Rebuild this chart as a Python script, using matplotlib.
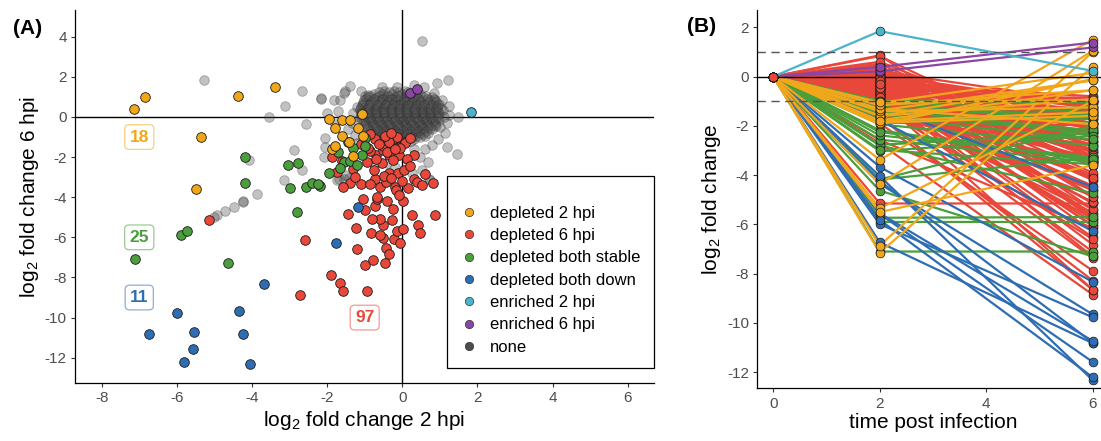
import matplotlib
matplotlib.use('Agg')
import matplotlib.pyplot as plt
from matplotlib.lines import Line2D

plt.rcParams['font.family'] = ['Liberation Sans', 'DejaVu Sans']
plt.rcParams['axes.unicode_minus'] = False
plt.rcParams['mathtext.default'] = 'regular'

# ---------------- data (log2 fold change at 2 hpi, 6 hpi) ----------------
categories = ['depleted 2 hpi', 'depleted 6 hpi', 'depleted both stable',
              'depleted both down', 'enriched 2 hpi', 'enriched 6 hpi', 'none']
cat_colors = ['#F2A71B', '#E8473A', '#4A9E3C', '#2E6DB3', '#4BB3CB', '#8B46A3', '#4D4D4D']

dep2_pts = [(-7.15, 0.40), (-6.86, 1.00), (-4.36, 1.05), (-3.38, 1.50), (-5.35, -1.00),
            (-5.50, -3.60), (-1.94, -0.10), (-1.60, -0.15), (-1.38, -0.15), (-1.07, 0.15),
            (-1.78, -0.55), (-1.60, -0.93), (-1.41, -1.25), (-1.87, -1.60), (-1.31, -1.93),
            (-1.17, -0.55), (-1.05, -0.95), (-1.80, -1.45)]

dep6_pts = [(-5.15, -5.15), (-2.71, -8.85), (-2.58, -6.15), (-1.90, -7.88), (-1.65, -8.28),
            (-1.58, -8.66), (-0.94, -8.65), (-0.98, -7.37), (-0.79, -7.11), (-1.22, -5.52),
            (-0.83, -5.78), (-0.50, -5.40), (-0.50, -6.03), (-0.23, -6.07), (-0.14, -5.67),
            (0.03, -5.58), (0.43, -5.38), (0.48, -5.78), (-0.43, -6.53), (-0.36, -6.82),
            (-0.59, -5.10), (-0.27, -5.15), (0.86, -4.88), (0.01, -4.20), (-0.98, -4.62),
            (-0.72, -4.43), (-0.68, -4.07), (-0.19, -3.48), (-0.59, -3.48), (-0.43, -3.23),
            (-0.72, -3.07), (-1.09, -3.35), (-1.38, -3.28), (-1.59, -3.48), (-0.76, -2.62),
            (-0.34, -2.80), (-0.11, -2.78), (0.04, -2.65), (0.30, -3.07), (0.39, -3.23),
            (0.52, -3.37), (0.83, -3.28), (-0.17, -3.65), (-0.67, -3.98), (0.30, -1.92),
            (-0.34, -1.90), (-0.10, -1.90), (-0.69, -1.90), (-0.87, -1.72), (-0.32, -1.48),
            (-0.10, -1.48), (0.08, -1.23), (-0.72, -1.12), (-0.19, -1.07), (-0.50, -1.65),
            (-0.90, -1.55), (-1.87, -1.98), (-0.52, -1.43), (-0.41, -1.73), (0.06, -1.30),
            (-0.05, -1.55), (-0.14, -1.02), (-0.35, -1.25), (-0.62, -1.35), (-0.25, -2.15),
            (-0.55, -2.30), (0.12, -2.10), (-0.95, -2.25), (-1.30, -2.60), (-0.48, -2.95),
            (-0.30, -3.05), (-0.85, -3.35), (-1.25, -3.00), (-0.40, -4.20), (-0.25, -4.60),
            (-0.80, -5.10), (-0.60, -5.90), (-0.05, -6.30), (-0.10, -3.90), (0.15, -3.55),
            (0.60, -2.85), (0.20, -2.45), (-0.02, -3.20), (-1.05, -4.10), (-1.45, -4.85),
            (-0.45, -7.30), (-1.20, -6.60), (0.25, -4.90), (-0.70, -2.10), (-0.20, -1.60),
            (-0.45, -0.95), (-1.10, -1.35), (0.20, -1.05), (-1.60, -2.20), (-1.75, -2.75),
            (-0.30, -0.80), (-0.85, -0.85)]

stable_pts = [(-4.18, -2.00), (-4.18, -3.30), (-5.90, -5.90), (-5.73, -5.70), (-7.10, -7.10),
              (-4.63, -7.30), (-2.80, -4.73), (-3.03, -2.40), (-2.77, -2.30), (-2.98, -3.56),
              (-2.56, -3.48), (-2.39, -3.27), (-2.18, -3.43), (-1.94, -2.80), (-1.70, -1.73),
              (-1.54, -2.27), (-1.30, -1.57), (-1.07, -1.90), (-0.98, -1.05), (-1.38, -2.18),
              (-2.25, -3.35), (-1.45, -1.25), (-1.20, -2.40), (-1.00, -1.45), (-1.65, -2.55)]

down_pts = [(-1.18, -4.48), (-1.76, -6.27), (-3.67, -8.33), (-4.35, -9.65), (-4.24, -10.80),
            (-4.04, -12.32), (-5.99, -9.77), (-6.73, -10.82), (-5.55, -10.73), (-5.58, -11.58),
            (-5.82, -12.20)]

enr2_pts = [(1.84, 0.23)]
enr6_pts = [(0.21, 1.18), (0.39, 1.38)]

none_pts = [
    # dense central cloud
    (-0.48, 1.30), (-0.22, 1.30), (0.08, 1.30),
    (-0.75, 1.15), (-0.52, 1.15), (-0.28, 1.15), (-0.02, 1.15), (0.22, 1.15), (0.47, 1.15),
    (-0.92, 0.98), (-0.68, 0.98), (-0.43, 0.98), (-0.18, 0.98), (0.07, 0.98), (0.31, 0.98),
    (0.56, 0.98), (0.78, 0.98),
    (-1.02, 0.82), (-0.79, 0.82), (-0.57, 0.82), (-0.36, 0.82), (-0.14, 0.82), (0.09, 0.82),
    (0.28, 0.82), (0.49, 0.82), (0.71, 0.82), (0.88, 0.82),
    (-1.05, 0.66), (-0.86, 0.66), (-0.63, 0.66), (-0.42, 0.66), (-0.22, 0.66), (-0.03, 0.66),
    (0.17, 0.66), (0.38, 0.66), (0.59, 0.66), (0.80, 0.66), (0.98, 0.66),
    (-1.10, 0.50), (-0.90, 0.50), (-0.69, 0.50), (-0.48, 0.50), (-0.27, 0.50), (-0.08, 0.50),
    (0.12, 0.50), (0.33, 0.50), (0.52, 0.50), (0.74, 0.50), (0.93, 0.50),
    (-1.12, 0.34), (-0.93, 0.34), (-0.72, 0.34), (-0.53, 0.34), (-0.31, 0.34), (-0.12, 0.34),
    (0.09, 0.34), (0.28, 0.34), (0.49, 0.34), (0.70, 0.34), (0.90, 0.34), (1.08, 0.34),
    (-1.08, 0.18), (-0.87, 0.18), (-0.66, 0.18), (-0.45, 0.18), (-0.26, 0.18), (-0.05, 0.18),
    (0.15, 0.18), (0.36, 0.18), (0.57, 0.18), (0.77, 0.18), (0.97, 0.18),
    (-1.13, 0.02), (-0.92, 0.02), (-0.71, 0.02), (-0.50, 0.02), (-0.29, 0.02), (-0.09, 0.02),
    (0.11, 0.02), (0.31, 0.02), (0.52, 0.02), (0.73, 0.02), (0.92, 0.02), (1.10, 0.02),
    (-1.06, -0.14), (-0.85, -0.14), (-0.64, -0.14), (-0.43, -0.14), (-0.23, -0.14),
    (-0.02, -0.14), (0.18, -0.14), (0.39, -0.14), (0.60, -0.14), (0.80, -0.14), (0.99, -0.14),
    (-1.00, -0.30), (-0.80, -0.30), (-0.58, -0.30), (-0.38, -0.30), (-0.17, -0.30),
    (0.04, -0.30), (0.24, -0.30), (0.45, -0.30), (0.66, -0.30), (0.86, -0.30),
    (-0.96, -0.46), (-0.74, -0.46), (-0.53, -0.46), (-0.32, -0.46), (-0.11, -0.46),
    (0.10, -0.46), (0.30, -0.46), (0.51, -0.46), (0.72, -0.46), (0.90, -0.46),
    (-0.90, -0.62), (-0.67, -0.62), (-0.46, -0.62), (-0.25, -0.62), (-0.04, -0.62),
    (0.17, -0.62), (0.38, -0.62), (0.59, -0.62), (0.79, -0.62),
    (-0.83, -0.78), (-0.60, -0.78), (-0.38, -0.78), (-0.16, -0.78), (0.06, -0.78),
    (0.27, -0.78), (0.48, -0.78), (0.68, -0.78),
    (-0.72, -0.94), (-0.50, -0.94), (-0.27, -0.94), (-0.05, -0.94), (0.17, -0.94),
    (0.40, -0.94), (0.60, -0.94),
    (-0.58, -1.10), (-0.35, -1.10), (-0.12, -1.10), (0.10, -1.10), (0.32, -1.10),
    (-0.40, -1.26), (-0.15, -1.26), (0.10, -1.26),
    (-0.55, 0.90), (-0.25, 0.90), (0.05, 0.90), (0.35, 0.90),
    (-0.75, 0.60), (-0.45, 0.60), (-0.15, 0.60), (0.15, 0.60), (0.45, 0.60),
    (-0.80, 0.26), (-0.50, 0.26), (-0.20, 0.26), (0.10, 0.26), (0.40, 0.26), (0.65, 0.26),
    (-0.80, -0.06), (-0.50, -0.06), (-0.20, -0.06), (0.10, -0.06), (0.40, -0.06), (0.65, -0.06),
    (-0.70, -0.38), (-0.40, -0.38), (-0.10, -0.38), (0.20, -0.38), (0.50, -0.38),
    (-0.50, -0.70), (-0.20, -0.70), (0.10, -0.70), (0.40, -0.70),
    # second overlapping layer of the central cloud
    (-0.62, 1.22), (-0.35, 1.22), (-0.10, 1.22), (0.15, 1.22), (0.38, 1.22),
    (-0.86, 1.06), (-0.61, 1.06), (-0.37, 1.06), (-0.12, 1.06), (0.13, 1.06), (0.37, 1.06),
    (0.63, 1.06),
    (-0.97, 0.90), (-0.74, 0.90), (-0.50, 0.90), (-0.29, 0.90), (-0.07, 0.90), (0.18, 0.90),
    (0.42, 0.90), (0.66, 0.90), (0.84, 0.90),
    (-1.04, 0.74), (-0.82, 0.74), (-0.60, 0.74), (-0.39, 0.74), (-0.18, 0.74), (0.04, 0.74),
    (0.26, 0.74), (0.47, 0.74), (0.68, 0.74), (0.89, 0.74),
    (-1.08, 0.58), (-0.88, 0.58), (-0.66, 0.58), (-0.44, 0.58), (-0.24, 0.58), (-0.05, 0.58),
    (0.15, 0.58), (0.36, 0.58), (0.57, 0.58), (0.77, 0.58), (0.96, 0.58),
    (-1.12, 0.42), (-0.91, 0.42), (-0.70, 0.42), (-0.50, 0.42), (-0.29, 0.42), (-0.10, 0.42),
    (0.10, 0.42), (0.31, 0.42), (0.51, 0.42), (0.72, 0.42), (0.91, 0.42),
    (-1.10, 0.26), (-0.90, 0.26), (-0.69, 0.26), (-0.48, 0.26), (-0.28, 0.26), (-0.08, 0.26),
    (0.13, 0.26), (0.33, 0.26), (0.54, 0.26), (0.74, 0.26), (0.94, 0.26),
    (-1.11, 0.10), (-0.90, 0.10), (-0.69, 0.10), (-0.48, 0.10), (-0.27, 0.10), (-0.07, 0.10),
    (0.13, 0.10), (0.34, 0.10), (0.55, 0.10), (0.75, 0.10), (0.95, 0.10),
    (-1.09, -0.06), (-0.88, -0.06), (-0.68, -0.06), (-0.47, -0.06), (-0.26, -0.06),
    (-0.06, -0.06), (0.14, -0.06), (0.35, -0.06), (0.56, -0.06), (0.76, -0.06), (0.96, -0.06),
    (-1.03, -0.22), (-0.82, -0.22), (-0.61, -0.22), (-0.40, -0.22), (-0.20, -0.22),
    (0.01, -0.22), (0.21, -0.22), (0.42, -0.22), (0.63, -0.22), (0.83, -0.22),
    (-0.98, -0.38), (-0.77, -0.38), (-0.56, -0.38), (-0.35, -0.38), (-0.14, -0.38),
    (0.07, -0.38), (0.27, -0.38), (0.48, -0.38), (0.69, -0.38), (0.88, -0.38),
    (-0.93, -0.54), (-0.71, -0.54), (-0.50, -0.54), (-0.29, -0.54), (-0.08, -0.54),
    (0.13, -0.54), (0.34, -0.54), (0.55, -0.54), (0.75, -0.54),
    (-0.86, -0.70), (-0.64, -0.70), (-0.42, -0.70), (-0.20, -0.70), (0.02, -0.70),
    (0.23, -0.70), (0.44, -0.70), (0.64, -0.70),
    (-0.78, -0.86), (-0.55, -0.86), (-0.33, -0.86), (-0.10, -0.86), (0.12, -0.86),
    (0.34, -0.86), (0.55, -0.86),
    (-0.65, -1.02), (-0.42, -1.02), (-0.20, -1.02), (0.03, -1.02), (0.25, -1.02), (0.47, -1.02),
    (-0.50, -1.18), (-0.25, -1.18), (0.00, -1.18), (0.22, -1.18),
    # scattered points
    (-5.27, 1.85), (-3.55, 0.02), (-3.13, 0.55), (-2.68, 1.30), (-2.15, 0.90), (-2.15, 0.92),
    (-2.55, -0.37), (-2.88, -1.65), (-2.66, -2.65), (-4.07, -2.15), (-3.86, -3.86),
    (-4.23, -4.20), (-4.23, -4.22), (-4.49, -4.47), (-4.71, -4.68), (-4.93, -4.90),
    (-5.02, -5.00), (-2.05, -1.03), (-2.08, -1.98), (-2.05, -1.48), (-1.56, -3.10),
    (-1.69, -3.07), (-1.42, -3.02), (-1.52, -2.90), (-1.74, -3.15), (-1.83, 0.85),
    (-1.65, 0.85), (-1.52, 1.27), (-1.38, 1.52), (-1.56, 1.18), (-1.20, 0.50), (-0.98, 1.05),
    (-0.90, 1.10), (-0.14, 1.50), (0.52, 3.78), (0.93, 1.68), (1.23, 1.85), (0.58, 1.50),
    (1.03, 0.45), (1.05, 0.85), (1.48, 0.02), (1.01, -0.48), (1.19, -1.49), (1.45, -1.85),
    (0.48, -1.98), (0.68, -2.27), (0.52, -2.65), (0.70, -3.07), (0.26, -2.78), (0.74, -3.15),
    (-0.74, -2.32), (-0.41, -2.32), (-0.20, -2.50), (-1.30, 0.20), (-1.35, -0.30),
    (-1.45, -0.60), (-1.25, -0.90), (1.25, 0.10), (1.20, -0.30), (1.15, -0.80), (0.95, -1.10),
    (0.80, -1.40), (0.60, -1.60), (0.30, -1.60), (1.25, 0.55), (-1.80, -0.35), (-1.70, 0.30),
    (-2.00, 0.20), (-1.20, -1.30), (-1.00, -1.40), (0.85, 1.20), (0.30, 1.60), (-0.55, 1.50),
    (-1.10, 1.30), (-3.16, -3.13),
]

count_labels = ['18', '97', '25', '11']

# ---------------- figure ----------------
W, H = 1101, 441
fig = plt.figure(figsize=(W / 100, H / 100), dpi=100)

def style_axes(ax):
    for s in ['top', 'right']:
        ax.spines[s].set_visible(False)
    for s in ['left', 'bottom']:
        ax.spines[s].set_linewidth(0.9)
        ax.spines[s].set_color('black')
    ax.tick_params(axis='both', length=3, width=0.8, color='#333333',
                   labelcolor='#4D4D4D', labelsize=11, pad=3)

# ---- panel A ----
axA = fig.add_axes([75 / W, (H - 383) / H, 579 / W, 373 / H])
style_axes(axA)
axA.set_xlim(-8.71, 6.70)
axA.set_ylim(-13.26, 5.33)
axA.set_xticks([-8, -6, -4, -2, 0, 2, 4, 6])
axA.set_yticks([-12, -10, -8, -6, -4, -2, 0, 2, 4])
axA.axhline(0, color='black', lw=1.0, zorder=1)
axA.axvline(0, color='black', lw=1.0, zorder=1)

nx = [p[0] for p in none_pts]
ny = [p[1] for p in none_pts]
axA.scatter(nx, ny, s=48, facecolor='#4D4D4D', edgecolor='#2A2A2A', linewidths=0.6,
            alpha=0.34, zorder=2)

point_sets = [dep6_pts, stable_pts, down_pts, dep2_pts, enr2_pts, enr6_pts]
set_colors = [cat_colors[1], cat_colors[2], cat_colors[3], cat_colors[0], cat_colors[4], cat_colors[5]]
for pts, c in zip(point_sets, set_colors):
    axA.scatter([p[0] for p in pts], [p[1] for p in pts], s=48, facecolor=c,
                edgecolor='#1A1A1A', linewidths=0.6, zorder=3)

axA.set_xlabel('log$_2$ fold change 2 hpi', fontsize=15, labelpad=3)
axA.set_ylabel('log$_2$ fold change 6 hpi', fontsize=15, labelpad=3)

label_pos = [(-7.0, -1.0), (-1.0, -10.0), (-7.0, -6.0), (-7.0, -9.0)]
label_cols = [cat_colors[0], cat_colors[1], cat_colors[2], cat_colors[3]]
for txt, (lx, ly), c in zip(count_labels, label_pos, label_cols):
    axA.text(lx, ly, txt, color=c, fontsize=12.5, fontweight='bold', ha='center', va='center',
             zorder=5,
             bbox=dict(boxstyle='round,pad=0.28,rounding_size=0.25', fc='white',
                       ec=matplotlib.colors.to_rgba(c, 0.55), lw=0.9))

handles = [Line2D([0], [0], marker='o', ls='none', markersize=6, markerfacecolor=c,
                  markeredgecolor='#333333', markeredgewidth=0.5) for c in cat_colors]
leg = axA.legend(handles, categories, loc='upper left',
                 bbox_to_anchor=(447 / W, 1 - 176 / H), bbox_transform=fig.transFigure,
                 fontsize=12, frameon=True, fancybox=False, framealpha=1,
                 edgecolor='black', borderpad=0.8, handlelength=1.0, handletextpad=0.8,
                 labelspacing=0.44, borderaxespad=0, title=' ', title_fontsize=6.5)
leg.get_frame().set_linewidth(0.9)

fig.text(13 / W, 1 - 28 / H, '(A)', fontsize=15, fontweight='bold', va='center', ha='left')

# ---- panel B ----
axB = fig.add_axes([757.3 / W, (H - 388.3) / H, (1108.7 - 757.3) / W, (388.3 - 10) / H])
style_axes(axB)
axB.set_xlim(-0.3, 6.3)
axB.set_ylim(-12.65, 2.70)
axB.set_xticks([0, 2, 4, 6])
axB.set_yticks([-12, -10, -8, -6, -4, -2, 0, 2])

times = [0, 2, 6]
line_order = [(dep6_pts, cat_colors[1]), (stable_pts, cat_colors[2]), (down_pts, cat_colors[3]),
              (dep2_pts, cat_colors[0]), (enr6_pts, cat_colors[5]), (enr2_pts, cat_colors[4])]
for pts, c in line_order:
    for x2, y6 in pts:
        axB.plot(times, [0, x2, y6], color=c, lw=1.6, zorder=2, solid_capstyle='round')

axB.axhline(0, color='black', lw=1.0, zorder=2.5)
axB.axhline(1, color='#555555', lw=1.0, ls=(0, (6, 4)), zorder=2.5)
axB.axhline(-1, color='#555555', lw=1.0, ls=(0, (6, 4)), zorder=2.5)

for pts, c in line_order:
    n = len(pts)
    axB.scatter([0] * n + [2] * n + [6] * n,
                [0] * n + [p[0] for p in pts] + [p[1] for p in pts],
                s=40, facecolor=c, edgecolor='#1A1A1A', linewidths=0.5, zorder=3)
axB.scatter([0], [0], s=40, facecolor=cat_colors[1], edgecolor='#1A1A1A', linewidths=0.5, zorder=4)

axB.set_xlabel('time post infection', fontsize=15, labelpad=2)
axB.set_ylabel('log$_2$ fold change', fontsize=15, labelpad=3)

fig.text(687 / W, 1 - 26 / H, '(B)', fontsize=15, fontweight='bold', va='center', ha='left')

fig.savefig('out.png', dpi=100)
